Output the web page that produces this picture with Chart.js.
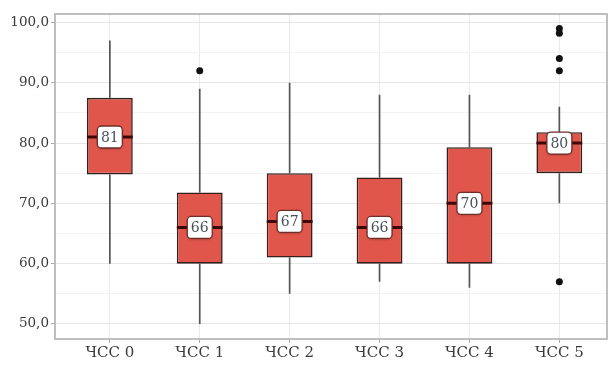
<!DOCTYPE html>
<html>
<head>
<meta charset="utf-8">
<script src="https://cdn.jsdelivr.net/npm/chart.js@4/dist/chart.umd.min.js"></script>
<style>
  html, body { margin: 0; padding: 0; background: #ffffff; }
  #wrap { width: 613px; height: 365px; }
</style>
</head>
<body>
<div id="wrap"><canvas id="c" width="613" height="365"></canvas></div>
<script>
// Heart-rate groups and their box-plot statistics
const categories  = ['ЧСС 0', 'ЧСС 1', 'ЧСС 2', 'ЧСС 3', 'ЧСС 4', 'ЧСС 5'];
const whiskerLow  = [60, 50, 55, 57, 56, 70];
const q1          = [74.8, 60, 61, 60, 60, 75];
const median      = [81, 66, 67, 66, 70, 80];
const q3          = [87.5, 71.8, 75, 74.3, 79.3, 81.8];
const whiskerHigh = [97, 89, 90, 88, 88, 86];
const outliers    = [[], [92], [], [], [], [99, 98.2, 94, 92, 57]];
const yTickValues = [50, 55, 60, 65, 70, 75, 80, 85, 90, 95, 100];

const SERIF = "'DejaVu Serif', 'Liberation Serif', serif";

const boxData = categories.map((_, i) => ({ x: i, y: [q1[i], q3[i]] }));
const outlierData = [];
outliers.forEach((list, i) => list.forEach(v => outlierData.push({ x: i, y: v })));

const boxParts = {
  id: 'boxParts',
  beforeDatasetsDraw(chart) {
    const { ctx, scales: { x, y } } = chart;
    ctx.save();
    ctx.strokeStyle = '#555555';
    ctx.lineWidth = 1.7;
    categories.forEach((_, i) => {
      const px = x.getPixelForValue(i);
      ctx.beginPath();
      ctx.moveTo(px, y.getPixelForValue(q3[i]));
      ctx.lineTo(px, y.getPixelForValue(whiskerHigh[i]));
      ctx.moveTo(px, y.getPixelForValue(q1[i]));
      ctx.lineTo(px, y.getPixelForValue(whiskerLow[i]));
      ctx.stroke();
    });
    ctx.restore();
  },
  afterDatasetsDraw(chart) {
    const { ctx, scales: { x, y } } = chart;
    const bars = chart.getDatasetMeta(0).data;
    ctx.save();
    categories.forEach((_, i) => {
      const px = x.getPixelForValue(i);
      const py = y.getPixelForValue(median[i]);
      const half = bars[i].width / 2;
      // median line
      ctx.strokeStyle = '#3f0808';
      ctx.lineWidth = 3;
      ctx.beginPath();
      ctx.moveTo(px - half, py);
      ctx.lineTo(px + half, py);
      ctx.stroke();
      // median label
      const w = 25, h = 22;
      ctx.shadowColor = 'rgba(0,0,0,0.3)';
      ctx.shadowBlur = 2;
      ctx.shadowOffsetY = 1;
      ctx.fillStyle = '#ffffff';
      ctx.beginPath();
      ctx.roundRect(px - w / 2, py - h / 2, w, h, 4);
      ctx.fill();
      ctx.shadowColor = 'transparent';
      ctx.strokeStyle = '#6e2e2a';
      ctx.lineWidth = 1.3;
      ctx.stroke();
      ctx.fillStyle = '#46515a';
      ctx.font = "14px " + SERIF;
      ctx.textAlign = 'center';
      ctx.textBaseline = 'middle';
      ctx.fillText(String(Math.round(median[i])), px, py + 1);
    });
    ctx.restore();
  },
  afterDraw(chart) {
    const { ctx, chartArea: a } = chart;
    ctx.save();
    ctx.strokeStyle = '#b8b8b8';
    ctx.lineWidth = 1.8;
    ctx.strokeRect(a.left, a.top, a.right - a.left, a.bottom - a.top);
    ctx.restore();
  }
};

new Chart(document.getElementById('c'), {
  type: 'bar',
  data: {
    datasets: [
      {
        type: 'bar',
        data: boxData,
        backgroundColor: '#e0564b',
        borderColor: '#33201e',
        borderWidth: 1.6,
        borderSkipped: false,
        categoryPercentage: 1,
        barPercentage: 0.51,
        order: 2
      },
      {
        type: 'scatter',
        data: outlierData,
        pointRadius: 3.5,
        pointBackgroundColor: '#111111',
        pointBorderColor: '#111111',
        pointBorderWidth: 0,
        order: 1
      }
    ]
  },
  options: {
    responsive: false,
    devicePixelRatio: 1,
    animation: false,
    layout: { padding: { top: 14, right: 6, left: 0, bottom: 0 } },
    plugins: { legend: { display: false }, tooltip: { enabled: false } },
    scales: {
      x: {
        type: 'linear',
        offset: false,
        min: -0.61,
        max: 5.53,
        afterBuildTicks(scale) { scale.ticks = categories.map((_, i) => ({ value: i })); },
        afterFit(scale) { scale.height = 26; },
        ticks: {
          callback: (v) => categories[v],
          color: '#3a3a3a',
          font: { family: SERIF, size: 15 },
          padding: 1,
          maxRotation: 0,
          autoSkip: false
        },
        grid: { offset: false, color: '#e9e9e9', lineWidth: 1, tickLength: 4, tickColor: '#aaaaaa' },
        border: { display: false }
      },
      y: {
        type: 'linear',
        min: 47.5,
        max: 101.4,
        afterBuildTicks(scale) { scale.ticks = yTickValues.map(v => ({ value: v })); },
        afterFit(scale) { scale.width = 55; },
        ticks: {
          callback: (v) => (v % 10 === 0 ? v.toFixed(1).replace('.', ',') : ''),
          color: '#3a3a3a',
          font: { family: SERIF, size: 13.5 },
          padding: 2
        },
        grid: {
          color: (c) => (c.tick && c.tick.value % 10 === 0 ? '#e6e6e6' : '#f3f3f3'),
          tickColor: (c) => (c.tick && c.tick.value % 10 === 0 ? '#aaaaaa' : 'transparent'),
          lineWidth: 1,
          tickLength: 4
        },
        border: { display: false }
      }
    }
  },
  plugins: [boxParts]
});
</script>
</body>
</html>
